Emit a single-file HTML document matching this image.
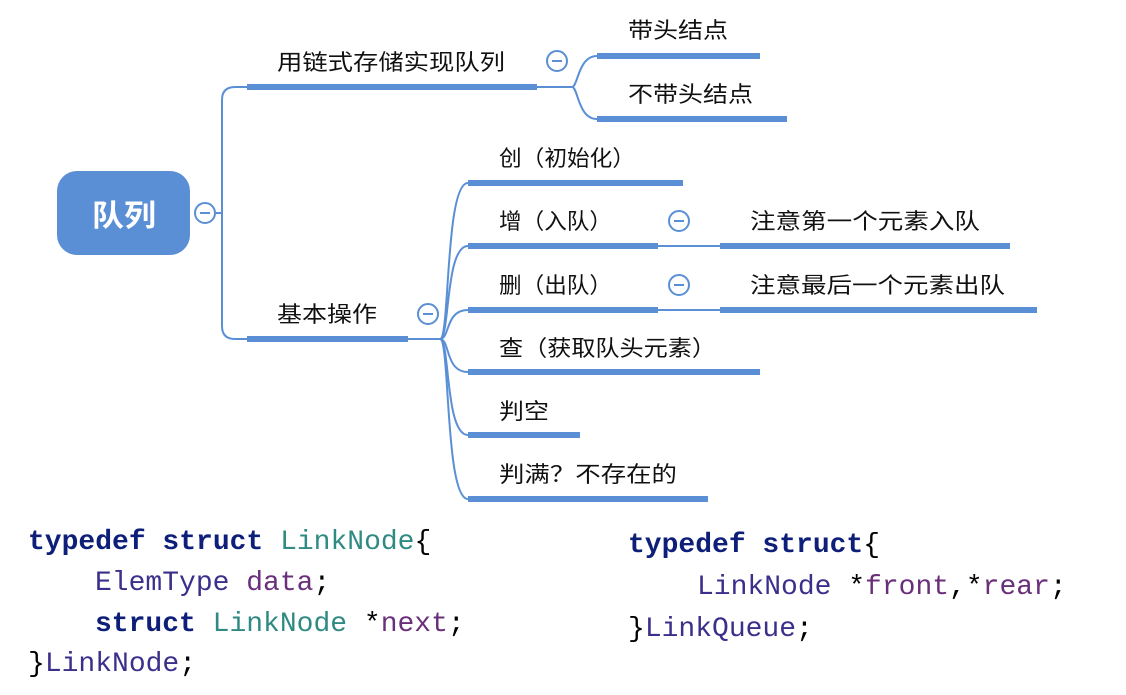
<!DOCTYPE html>
<html><head><meta charset="utf-8"><style>
body{margin:0;background:#fff;width:1126px;height:690px;overflow:hidden}
.t text{font-family:"Liberation Sans","Noto Sans CJK SC",sans-serif}
.c text{font-family:"Liberation Mono",monospace;font-size:28px}
</style></head><body>
<svg width="1126" height="690" viewBox="0 0 1126 690" xmlns="http://www.w3.org/2000/svg">
<g fill="none" stroke="#5a8fd6" stroke-width="2">
<path d="M216 213 H222"/>
<path d="M222 213 V100 Q222 87 235 87 H247"/>
<path d="M222 213 V326 Q222 339 235 339 H247"/>
<path d="M537 87 H572"/>
<path d="M572 87 C578 87 578 56 597 56"/>
<path d="M572 87 C578 87 578 119 597 119"/>
<path d="M408 339 H440"/>
<path d="M440 339 C450 339 445 183 468 183"/>
<path d="M440 339 C450 339 445 246 468 246"/>
<path d="M440 339 C450 339 445 310 468 310"/>
<path d="M440 339 C450 339 445 372 468 372"/>
<path d="M440 339 C450 339 445 435 468 435"/>
<path d="M440 339 C450 339 445 499 468 499"/>
<path d="M658 246 H720"/>
<path d="M658 310 H720"/>
</g>
<g fill="#5a8fd6">
<rect x="57" y="171" width="133" height="84" rx="20"/>
<rect x="247" y="84" width="290" height="6"/>
<rect x="247" y="336" width="161" height="6"/>
<rect x="597" y="53" width="163" height="6"/>
<rect x="597" y="116" width="190" height="6"/>
<rect x="468" y="180" width="215" height="6"/>
<rect x="468" y="243" width="190" height="6"/>
<rect x="468" y="307" width="190" height="6"/>
<rect x="468" y="369" width="292" height="6"/>
<rect x="468" y="432" width="112" height="6"/>
<rect x="468" y="496" width="240" height="6"/>
<rect x="720" y="243" width="290" height="6"/>
<rect x="720" y="307" width="317" height="6"/>
</g>
<g fill="#fff" stroke="#5a8fd6" stroke-width="2">
<circle cx="205" cy="213" r="10"/>
<circle cx="557" cy="61" r="10"/>
<circle cx="428" cy="314" r="10"/>
<circle cx="679" cy="221" r="10"/>
<circle cx="679" cy="285" r="10"/>
</g>
<g stroke="#5a8fd6" stroke-width="2">
<path d="M200 213h10M552 61h10M423 314h10M674 221h10M674 285h10"/>
</g>
<g class="t">
<text x="92" y="226" fill="#fff" font-size="30" font-weight="bold" textLength="64" lengthAdjust="spacingAndGlyphs">队列</text>
<g font-size="22" fill="#111">
<text x="277" y="70" textLength="228" lengthAdjust="spacingAndGlyphs">用链式存储实现队列</text>
<text x="628" y="38" textLength="100" lengthAdjust="spacingAndGlyphs">带头结点</text>
<text x="628" y="102" textLength="125" lengthAdjust="spacingAndGlyphs">不带头结点</text>
<text x="277" y="322" textLength="100" lengthAdjust="spacingAndGlyphs">基本操作</text>
<text x="499" y="166" textLength="136" lengthAdjust="spacingAndGlyphs">创（初始化）</text>
<text x="499" y="229" textLength="113" lengthAdjust="spacingAndGlyphs">增（入队）</text>
<text x="499" y="293" textLength="113" lengthAdjust="spacingAndGlyphs">删（出队）</text>
<text x="499" y="356" textLength="217" lengthAdjust="spacingAndGlyphs">查（获取队头元素）</text>
<text x="499" y="419" textLength="50" lengthAdjust="spacingAndGlyphs">判空</text>
<text x="499" y="482" textLength="178" lengthAdjust="spacingAndGlyphs">判满？不存在的</text>
<text x="750" y="229" textLength="230" lengthAdjust="spacingAndGlyphs">注意第一个元素入队</text>
<text x="750" y="293" textLength="255" lengthAdjust="spacingAndGlyphs">注意最后一个元素出队</text>
</g>
</g>
<g class="c">
<text x="28" y="549"><tspan fill="#0d1f78" font-weight="bold">typedef struct</tspan> <tspan fill="#2e8a82">LinkNode</tspan><tspan fill="#000">{</tspan></text>
<text x="95" y="590"><tspan fill="#3a2f8a">ElemType</tspan> <tspan fill="#6a2f7a">data</tspan><tspan fill="#000">;</tspan></text>
<text x="95" y="631"><tspan fill="#0d1f78" font-weight="bold">struct</tspan> <tspan fill="#2e8a82">LinkNode</tspan> <tspan fill="#000">*</tspan><tspan fill="#6a2f7a">next</tspan><tspan fill="#000">;</tspan></text>
<text x="28" y="671"><tspan fill="#000">}</tspan><tspan fill="#3a2f8a">LinkNode</tspan><tspan fill="#000">;</tspan></text>
<text x="628" y="552"><tspan fill="#0d1f78" font-weight="bold">typedef struct</tspan><tspan fill="#000">{</tspan></text>
<text x="697" y="594"><tspan fill="#3a2f8a">LinkNode</tspan> <tspan fill="#000">*</tspan><tspan fill="#6a2f7a">front</tspan><tspan fill="#000">,*</tspan><tspan fill="#6a2f7a">rear</tspan><tspan fill="#000">;</tspan></text>
<text x="628" y="636"><tspan fill="#000">}</tspan><tspan fill="#3a2f8a">LinkQueue</tspan><tspan fill="#000">;</tspan></text>
</g>
</svg>
</body></html>
